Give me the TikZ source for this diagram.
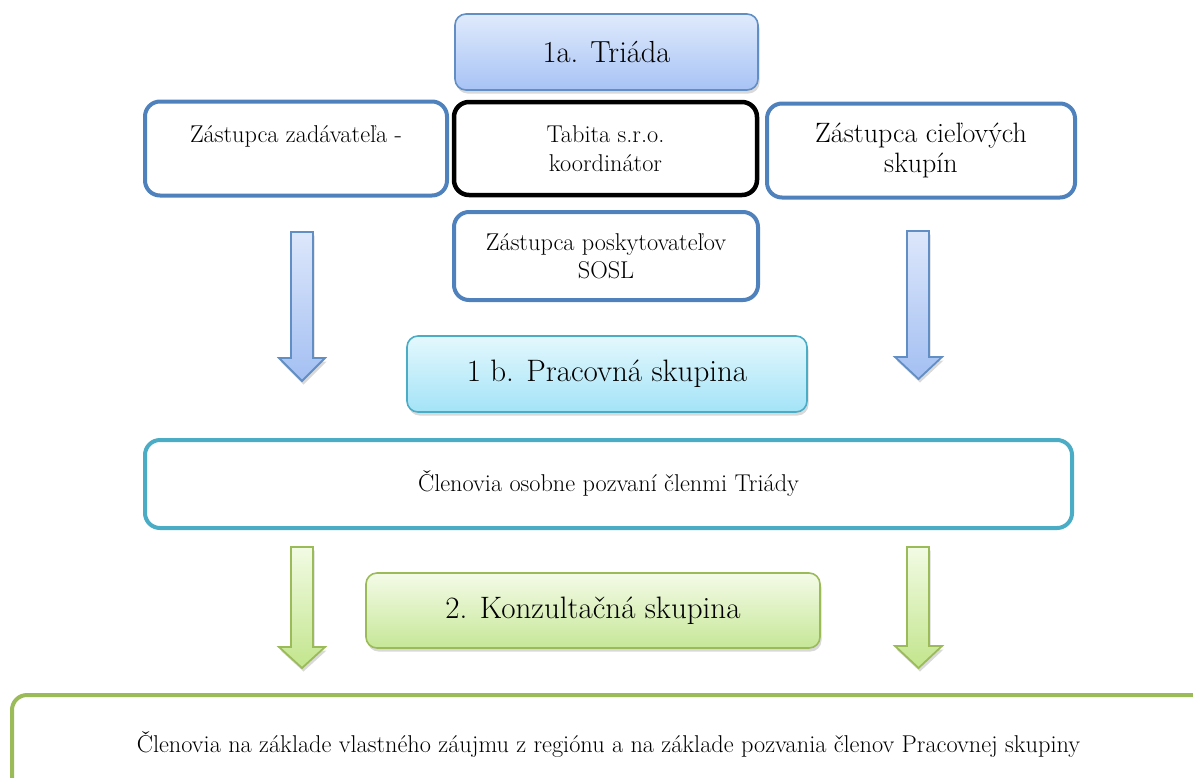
\documentclass[tikz,border=0pt]{standalone}
\usepackage{fontspec}
\usetikzlibrary{shadows}
\definecolor{bblue}{HTML}{4F81BD}
\definecolor{cblue}{HTML}{4BACC6}
\definecolor{gline}{HTML}{9BBB59}
\definecolor{tbtop}{HTML}{E0EAFC}
\definecolor{tbbot}{HTML}{A7C3F5}
\definecolor{pctop}{HTML}{E4F8FD}
\definecolor{pcbot}{HTML}{A3E3F7}
\definecolor{kgtop}{HTML}{F4FBE8}
\definecolor{kgbot}{HTML}{C6E797}
\definecolor{abtop}{HTML}{DDE7FB}
\definecolor{abbot}{HTML}{A3BFF2}
\definecolor{agtop}{HTML}{F2FBE4}
\definecolor{agbot}{HTML}{C2E58C}
\tikzset{
  sh/.style={drop shadow={opacity=0.3,shadow xshift=1.5pt,shadow yshift=-3.5pt}},
  headbox/.style={rounded corners=11pt, line width=1.6pt, sh, inner sep=0pt,
    font=\fontsize{31}{36}\selectfont},
  whitebox/.style={draw, fill=white, rounded corners=15pt, line width=4pt, inner sep=0pt,
    align=center, font=\fontsize{24.3}{28.5}\selectfont},
  barrow/.style={draw=bblue!90, line width=1.8pt, top color=abtop, bottom color=abbot, sh, line join=miter},
  garrow/.style={draw=gline, line width=1.8pt, top color=agtop, bottom color=agbot, sh, line join=miter},
}
\begin{document}
\begin{tikzpicture}[x=1pt,y=-1pt]
\useasboundingbox (0,0) rectangle (1193,777);
\clip (0,0) rectangle (1193,777);

% 1a Triada
\node[headbox, draw=bblue!90, top color=tbtop, bottom color=tbbot,
  minimum width=303pt, minimum height=76pt, font=\fontsize{30.5}{36}\selectfont] (triada) at (606.5,52) {1a. Triáda};

% first row
\node[whitebox, draw=bblue, minimum width=302pt, minimum height=94pt] (zad) at (296,148.5)
  {Zástupca zadávateľa -\\ \mbox{}};
\node[whitebox, draw=black, line width=4.5pt, minimum width=303pt, minimum height=93pt] (tab) at (605.5,148.5)
  {Tabita s.r.o.\\ koordinátor};
\node[whitebox, draw=bblue, minimum width=308pt, minimum height=94pt,
  font=\fontsize{28}{30.5}\selectfont] (ciel) at (921,150.5)
  {Zástupca cieľových\\ skupín};
\node[whitebox, draw=bblue, minimum width=304pt, minimum height=88pt] (sosl) at (606,256)
  {Zástupca poskytovateľov\\ SOSL};

% blue arrows
\path[barrow] (291,232) -- (313,232) -- (313,358) -- (325,358) -- (302,381) -- (279,358) -- (291,358) -- cycle;
\path[barrow] (907,231) -- (929,231) -- (929,357) -- (942,357) -- (918.5,379) -- (895,357) -- (907,357) -- cycle;

% 1b Pracovna skupina
\node[headbox, draw=cblue, top color=pctop, bottom color=pcbot,
  minimum width=400pt, minimum height=76pt] (prac) at (607,374) {1 b. Pracovná skupina};

\node[whitebox, draw=cblue, minimum width=927pt, minimum height=88pt] (clen) at (608.5,484)
  {Členovia osobne pozvaní členmi Triády};

% green arrows
\path[garrow] (291,547) -- (313,547) -- (313,647) -- (325,647) -- (302,668) -- (279,647) -- (291,647) -- cycle;
\path[garrow] (907,547) -- (929,547) -- (929,646) -- (942,646) -- (918.5,668) -- (895,646) -- (907,646) -- cycle;

% 2 Konzultacna skupina
\node[headbox, draw=gline, top color=kgtop, bottom color=kgbot,
  minimum width=454pt, minimum height=75pt] (konz) at (593,610.5) {2. Konzultačná skupina};

\node[whitebox, draw=gline, minimum width=1210pt, minimum height=106pt, anchor=north west] (bot) at (10,693) {};
\node[font=\fontsize{24.3}{28}\selectfont, inner sep=0pt] (bottxt) at (608.5,745)
  {Členovia na základe vlastného záujmu z regiónu a na základe pozvania členov Pracovnej skupiny};
\end{tikzpicture}
\end{document}
